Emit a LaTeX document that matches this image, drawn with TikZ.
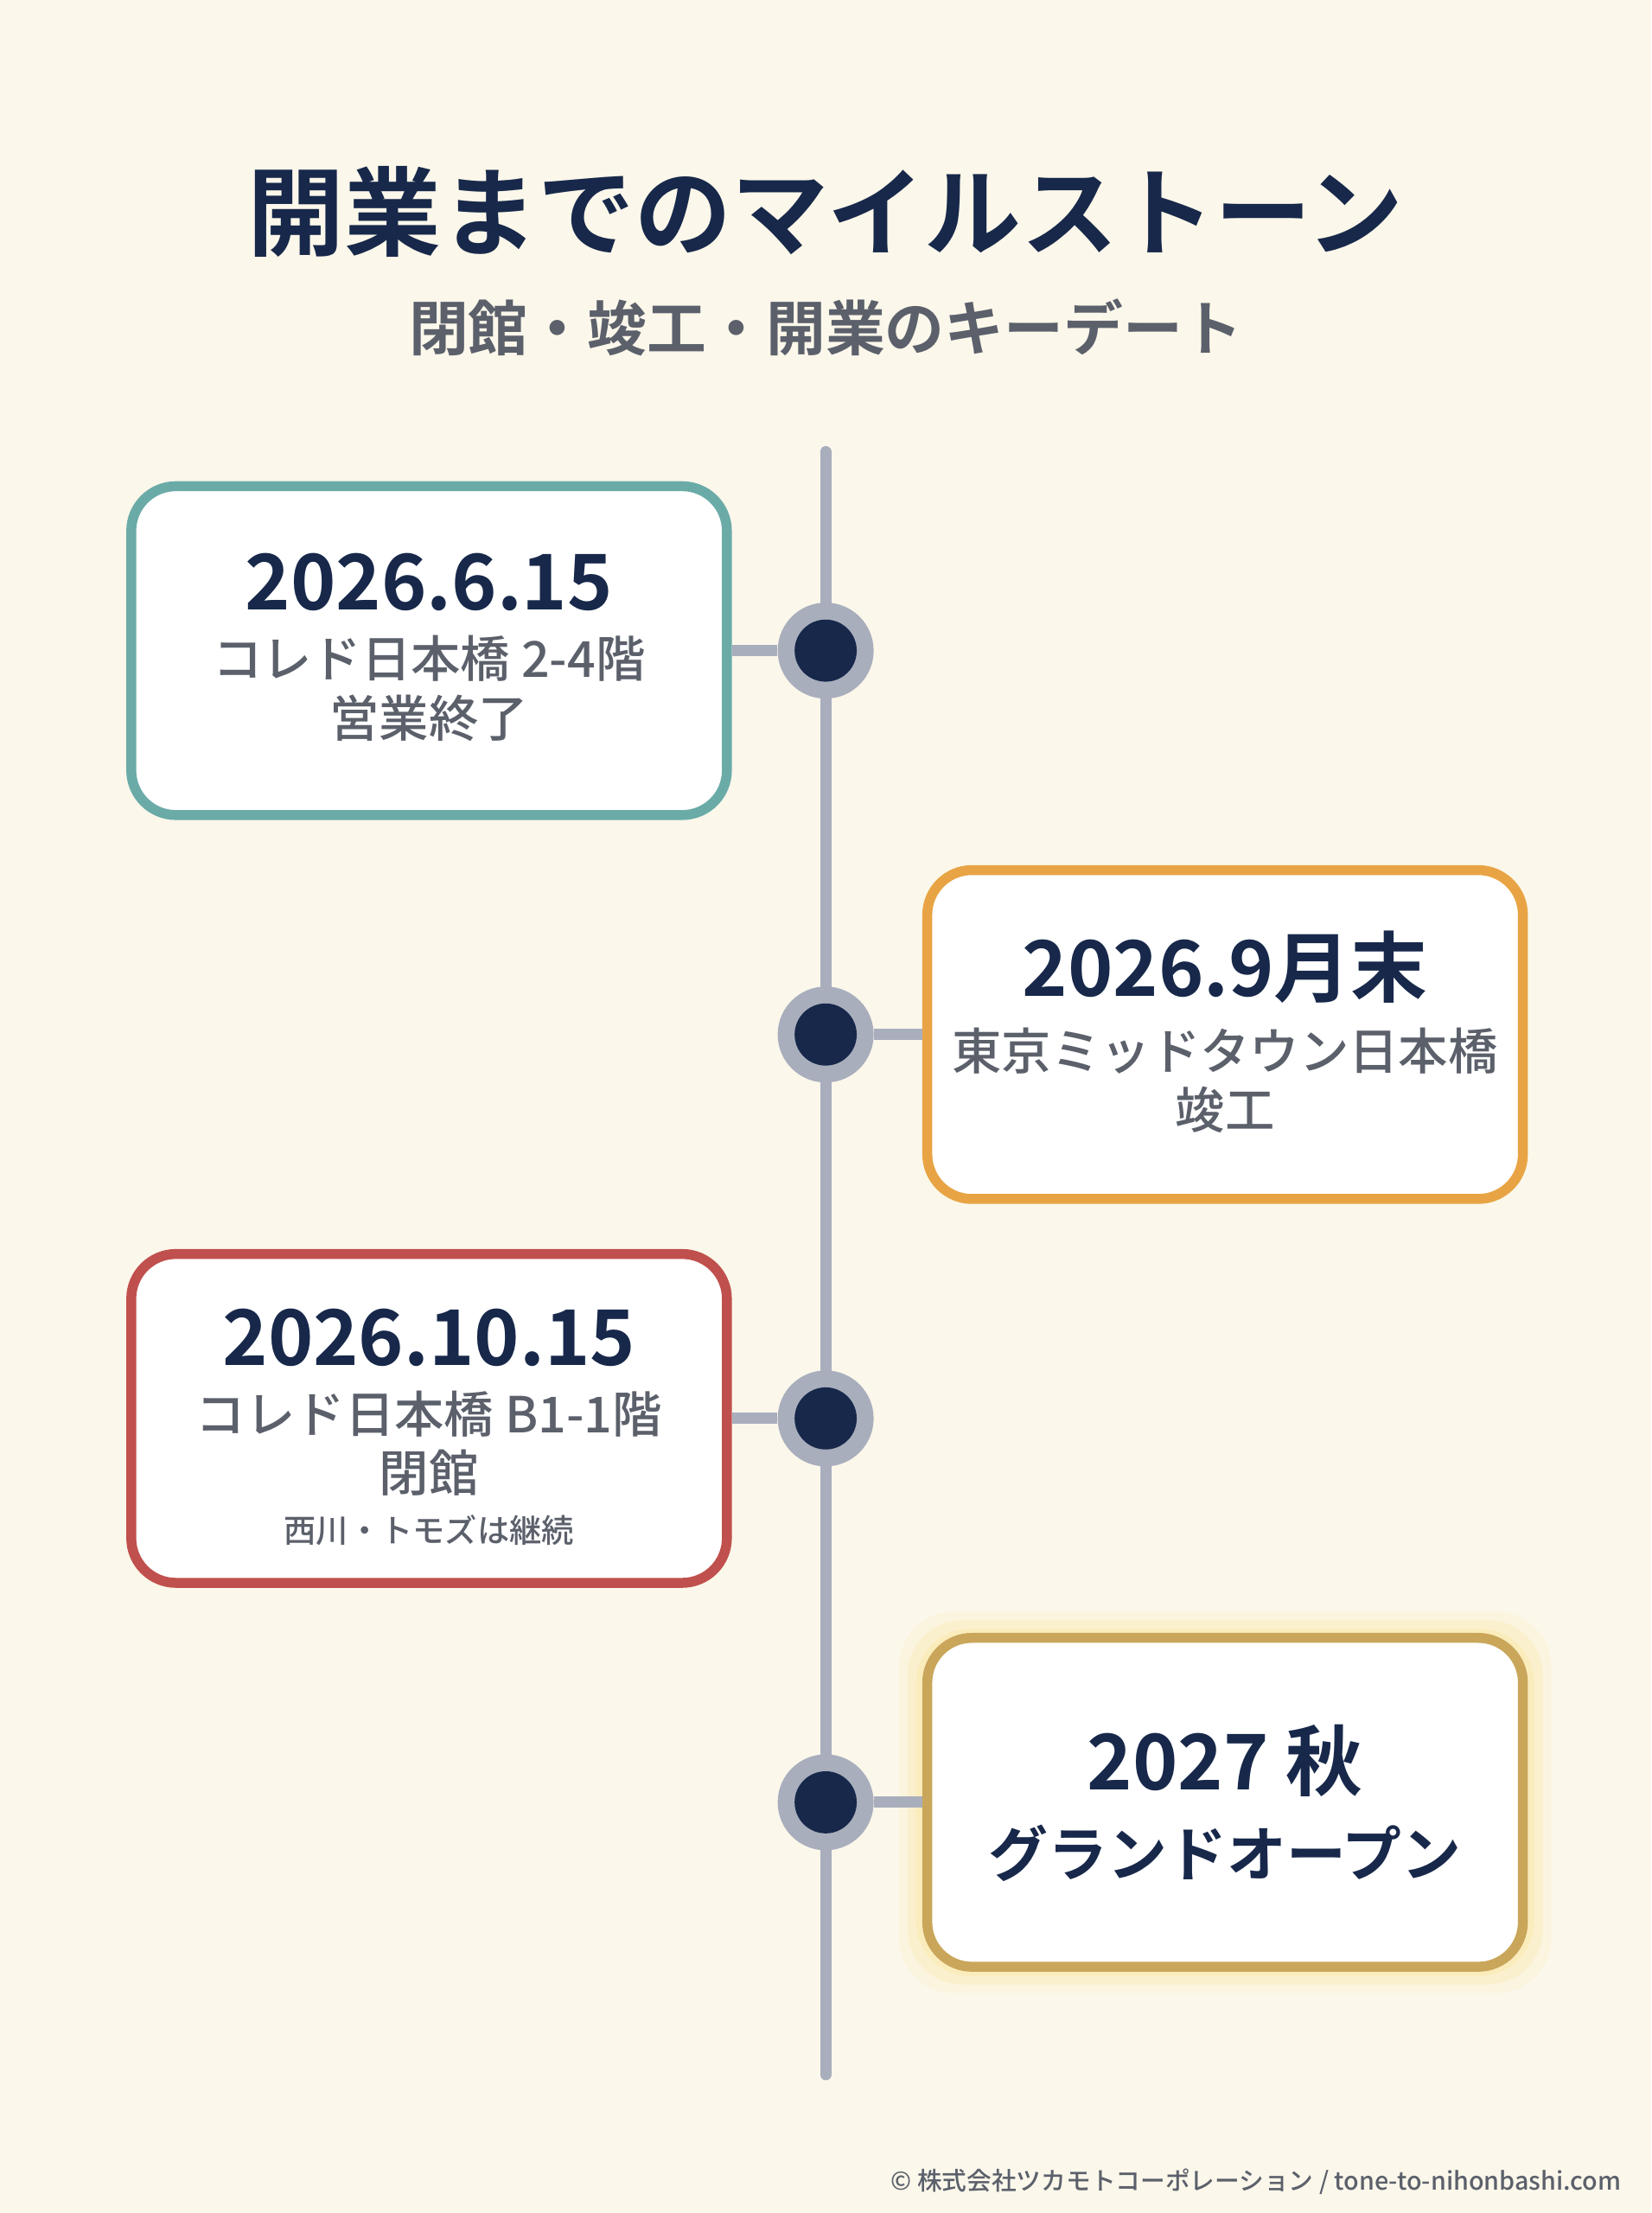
\documentclass[tikz,border=0pt]{standalone}
\usepackage{fontspec}
\setmainfont{Noto Sans CJK JP Medium}
\newfontfamily\jpbold{Noto Sans CJK JP Bold}
\usetikzlibrary{positioning}
\definecolor{bgcream}{HTML}{FBF7EA}
\definecolor{navy}{HTML}{17284A}
\definecolor{greytext}{HTML}{5B606B}
\definecolor{railgrey}{HTML}{A9AEBD}
\definecolor{tealc}{HTML}{6AABA8}
\definecolor{orangec}{HTML}{E8A444}
\definecolor{redc}{HTML}{C0504D}
\definecolor{goldc}{HTML}{C9A65A}
\tikzset{
  card/.style={draw=#1,line width=4pt,rounded corners=18pt,fill=white,minimum width=8.44cm,minimum height=4.66cm,align=center,inner sep=0pt},
  datetxt/.style={font=\jpbold\fontsize{31}{34}\selectfont,text=navy},
  subtxt/.style={font=\fontsize{20}{24}\selectfont,text=greytext},
  dotout/.style={circle,fill=railgrey,minimum size=1.36cm,inner sep=0pt},
  dotin/.style={circle,fill=navy,minimum size=0.88cm,inner sep=0pt},
  link/.style={railgrey,line width=4.5pt}
}
\begin{document}
\begin{tikzpicture}
\fill[bgcream](0,0)rectangle(23.4,-31.36);
\useasboundingbox(0,0)rectangle(23.4,-31.36);
% title
\node[font=\jpbold\fontsize{39}{44}\selectfont,text=navy](title)at(11.7,-3.0){開業までのマイルストーン};
\node[font=\jpbold\fontsize{24}{28}\selectfont,text=greytext](subtitle)at(11.7,-4.64){閉館・竣工・開業のキーデート};
% rail
\coordinate(railtop)at(11.7,-6.4);
\coordinate(railbot)at(11.7,-29.4);
\draw[railgrey,line width=4.5pt,line cap=round](railtop)--(railbot);
% glow behind last card
\foreach \g/\o in {0.4/0.05,0.28/0.07,0.16/0.09,0.06/0.12}
  \fill[yellow!60!orange,opacity=\o,rounded corners=22pt](13.14-\g,-23.24+\g)rectangle(21.58+\g,-27.84-\g);
% cards
\node[card=tealc](c1)at(6.08,-9.22){};
\node[card=orangec](c2)at(17.36,-14.66){};
\node[card=redc](c3)at(6.08,-20.1){};
\node[card=goldc](c4)at(17.36,-25.54){};
% dots
\foreach \n/\y in {1/-9.22,2/-14.66,3/-20.1,4/-25.54}{
  \node[dotout](d\n)at(11.7,\y){};
}
\draw[link](c1.east)--(d1);
\draw[link](c2.west)--(d2);
\draw[link](c3.east)--(d3);
\draw[link](c4.west)--(d4);
\foreach \n in {1,2,3,4}\node[dotin]at(d\n){};
% card texts
\node[datetxt](t1)at(6.08,-8.25){2026.6.15};
\node[subtxt,align=center,below=0.1cm of t1]{コレド日本橋 2-4階\\営業終了};
\node[datetxt](t2)at(17.36,-13.7){2026.9月末};
\node[subtxt,align=center,below=0.1cm of t2]{東京ミッドタウン日本橋\\竣工};
\node[datetxt](t3)at(6.08,-18.95){2026.10.15};
\node[subtxt,align=center,below=0.1cm of t3](s3){コレド日本橋 B1-1階\\閉館};
\node[font=\fontsize{13}{15}\selectfont,text=greytext,below=0.02cm of s3]{西川・トモズは継続};
\node[datetxt](t4)at(17.36,-24.95){2027 秋};
\node[font=\jpbold\fontsize{24}{28}\selectfont,text=navy,below=0.15cm of t4]{グランドオープン};
% footer
\node[anchor=east,font=\fontsize{10}{12}\selectfont,text=greytext](foot)at(23.1,-30.92){© 株式会社ツカモトコーポレーション / tone-to-nihonbashi.com};
\end{tikzpicture}
\end{document}
